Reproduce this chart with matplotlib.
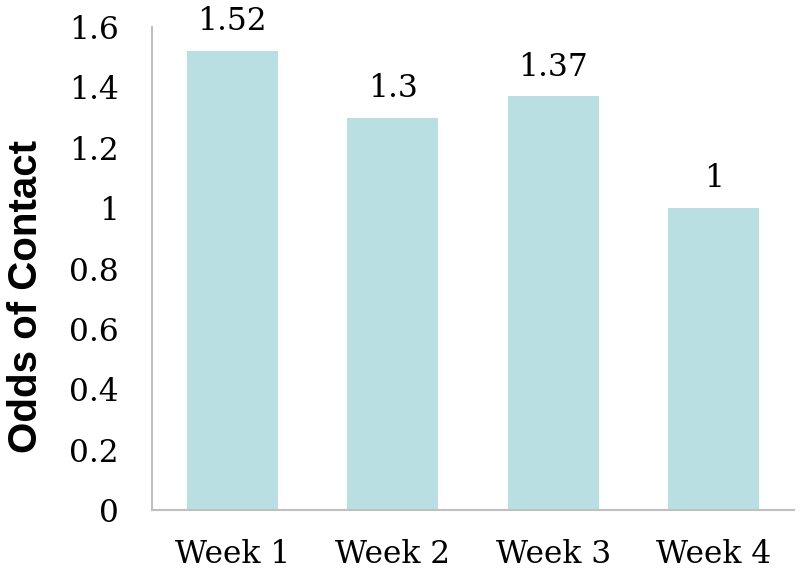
import matplotlib
matplotlib.use("Agg")
import matplotlib.pyplot as plt

categories = ["Week 1", "Week 2", "Week 3", "Week 4"]
values = [1.52, 1.3, 1.37, 1]
value_labels = ["1.52", "1.3", "1.37", "1"]
yticks = [0, 0.2, 0.4, 0.6, 0.8, 1, 1.2, 1.4, 1.6]
ytick_labels = ["0", "0.2", "0.4", "0.6", "0.8", "1", "1.2", "1.4", "1.6"]

fig = plt.figure(figsize=(8, 5.73), dpi=100)
ax = fig.add_axes([152/800, 1-510/573, (794-152)/800, (510-27)/573])
x = range(len(categories))
bars = ax.bar(x, values, width=0.57, color="#BADFE3", edgecolor="none")
ax.set_xlim(-0.5, len(categories)-0.5)
ax.set_ylim(0, 1.6)
ax.set_yticks(yticks)
ax.set_yticklabels(ytick_labels)
ax.set_xticks(list(x))
ax.set_xticklabels(categories)
serif = "DejaVu Serif"
fs = 22.5
for lab in ax.get_yticklabels() + ax.get_xticklabels():
    lab.set_fontfamily(serif)
    lab.set_fontsize(fs)
ax.tick_params(axis="both", length=0, colors="black")
ax.tick_params(axis="y", pad=24)
ax.tick_params(axis="x", pad=21)
for s in ["top", "right"]:
    ax.spines[s].set_visible(False)
for s in ["left", "bottom"]:
    ax.spines[s].set_color("#BFBFBF")
    ax.spines[s].set_linewidth(1.5)
for b, t in zip(bars, value_labels):
    ax.annotate(t, (b.get_x() + b.get_width()/2, b.get_height()), xytext=(0, 10),
                textcoords="offset points", ha="center", va="bottom",
                fontfamily=serif, fontsize=fs)
ax.set_ylabel("Odds of Contact", fontfamily="Liberation Sans", fontweight="bold",
              fontsize=29)
ax.yaxis.set_label_coords(-0.167, 0.443)
fig.savefig("out.png", dpi=100)
